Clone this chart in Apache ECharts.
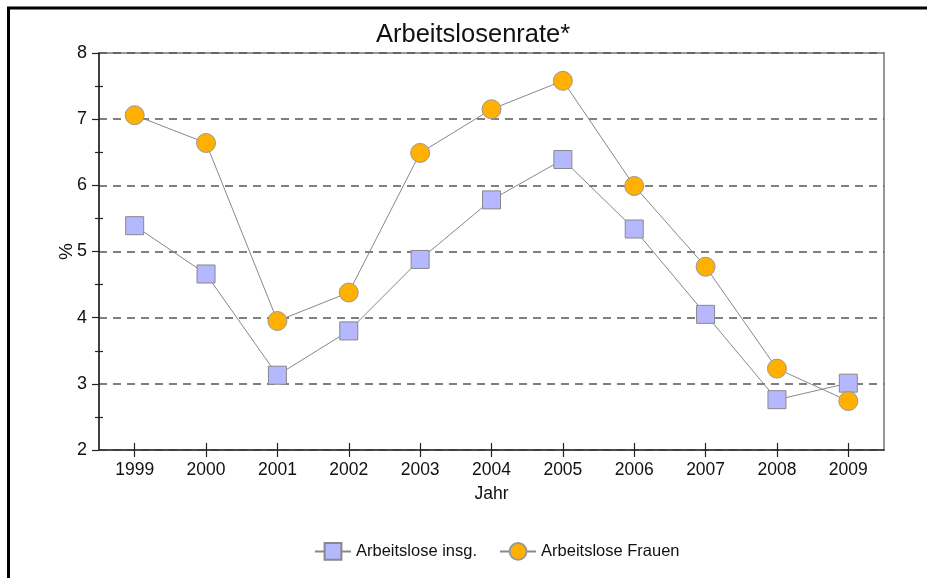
<!DOCTYPE html>
<html>
<head>
<meta charset="utf-8">
<script src="https://cdn.jsdelivr.net/npm/echarts@6/dist/echarts.min.js"></script>
<style>
html,body{margin:0;padding:0;background:#fff;}
#chart{width:927px;height:578px;}
</style>
</head>
<body>
<div id="chart"></div>
<script>
const years = ['1999','2000','2001','2002','2003','2004','2005','2006','2007','2008','2009'];
const insgesamt = [5.39, 4.66, 3.13, 3.80, 4.88, 5.78, 6.39, 5.34, 4.05, 2.76, 3.01];
const frauen = [7.06, 6.64, 3.95, 4.38, 6.49, 7.15, 7.58, 5.99, 4.77, 3.23, 2.74];
const yMin = 2, yMax = 8, yStep = 1;
const yMinorTicks = [2.5, 3.5, 4.5, 5.5, 6.5, 7.5];

const sans = '"Liberation Sans", Arial, sans-serif';
const chart = echarts.init(document.getElementById('chart'), null, {renderer: 'canvas'});
chart.setOption({
  backgroundColor: '#fff',
  animation: false,
  title: {
    text: 'Arbeitslosenrate*',
    left: 371, top: 17,
    textStyle: {fontFamily: sans, fontSize: 25.5, fontWeight: 'normal', color: '#111'}
  },
  graphic: [{
    type: 'polyline',
    shape: {points: [[8.5, 578], [8.5, 8], [927, 8]]},
    style: {stroke: '#000', lineWidth: 3, fill: null},
    silent: true
  }],
  grid: {
    left: 99, right: 43, top: 53, bottom: 128,
    show: true, borderColor: '#777', borderWidth: 1.5, backgroundColor: 'transparent'
  },
  legend: {
    left: 309, top: 537,
    itemWidth: 36, itemHeight: 21, itemGap: 22,
    textStyle: {fontFamily: sans, fontSize: 16.5, color: '#111'},
    data: ['Arbeitslose insg.', 'Arbeitslose Frauen']
  },
  xAxis: [{
    type: 'category', data: years, boundaryGap: true, position: 'bottom',
    name: 'Jahr', nameLocation: 'middle', nameGap: 35, nameMoveOverlap: false,
    nameTextStyle: {fontFamily: sans, fontSize: 17.5, color: '#111'},
    axisLine: {show: true, lineStyle: {color: '#333', width: 1.5}},
    axisTick: {show: true, alignWithLabel: true, inside: false, length: 7, lineStyle: {color: '#222', width: 1.2}},
    axisLabel: {interval: 0, margin: 11, fontFamily: sans, fontSize: 17.5, color: '#111'},
    splitLine: {show: false}
  }, {
    type: 'category', data: years, boundaryGap: true, position: 'bottom',
    axisLine: {show: false},
    axisTick: {show: true, alignWithLabel: true, inside: true, length: 7, lineStyle: {color: '#222', width: 1.2}},
    axisLabel: {show: false},
    splitLine: {show: false}
  }],
  yAxis: [{
    type: 'value', min: yMin, max: yMax, interval: yStep,
    name: '%', nameLocation: 'middle', nameGap: 23, nameRotate: 90, nameMoveOverlap: false,
    nameTextStyle: {fontFamily: sans, fontSize: 19, color: '#111'},
    axisLine: {show: true, lineStyle: {color: '#222', width: 1.5}},
    axisTick: {show: true, inside: false, length: 7, lineStyle: {color: '#222', width: 1.2}},
    minorTick: {show: true, splitNumber: 2, length: 4, lineStyle: {color: '#222', width: 1.2}},
    axisLabel: {margin: 12, fontFamily: sans, fontSize: 18, color: '#111'},
    splitLine: {show: true, lineStyle: {color: '#555', width: 1.5, type: [8, 6]}}
  }, {
    type: 'value', min: yMin, max: yMax, position: 'left',
    axisLine: {show: false},
    axisTick: {show: true, inside: true, length: 4, customValues: yMinorTicks, lineStyle: {color: '#222', width: 1.2}},
    axisLabel: {show: false},
    splitLine: {show: false}
  }],
  series: [{
    name: 'Arbeitslose insg.', type: 'line', data: insgesamt,
    xAxisIndex: 0, yAxisIndex: 0,
    symbol: 'rect', symbolSize: 18,
    itemStyle: {color: '#B5B8FF', borderColor: '#888', borderWidth: 1},
    lineStyle: {color: '#888', width: 1}
  }, {
    name: 'Arbeitslose Frauen', type: 'line', data: frauen,
    xAxisIndex: 0, yAxisIndex: 0,
    symbol: 'circle', symbolSize: 19,
    itemStyle: {color: '#FFB000', borderColor: '#999', borderWidth: 1},
    lineStyle: {color: '#888', width: 1}
  }]
});
</script>
</body>
</html>
